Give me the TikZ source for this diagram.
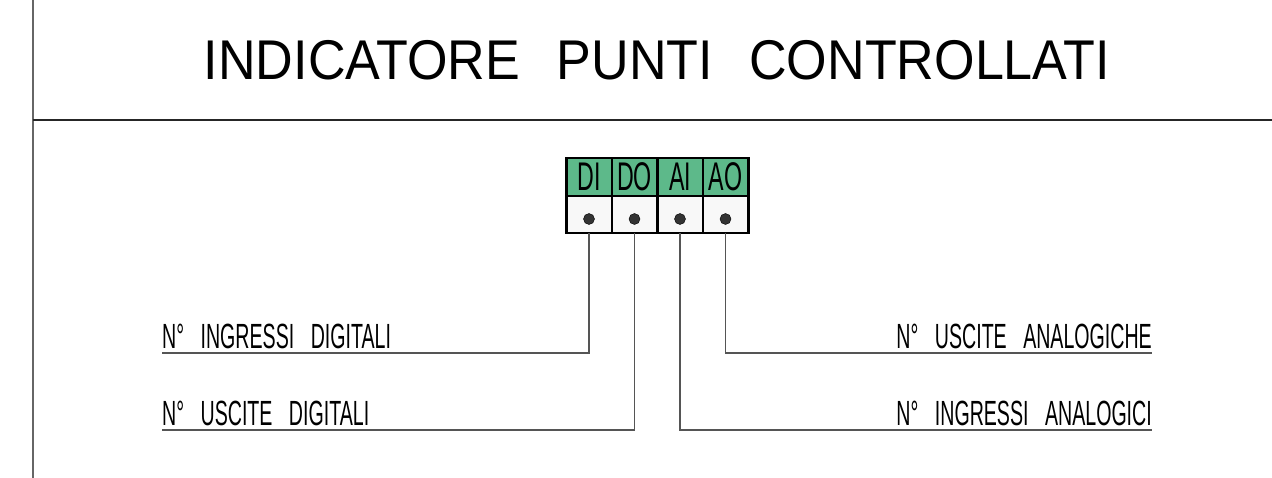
\documentclass[tikz,border=0pt]{standalone}
\usepackage{fontspec}
\usepackage{graphicx}
\setmainfont{Liberation Sans}
\usetikzlibrary{positioning}
\newcommand{\cadtxt}[2][0.56]{\scalebox{#1}[1]{#2}}
\newcommand{\wgap}{\hspace{0.84em}}
\newcommand{\tgap}{\hspace{0.7em}}
\definecolor{dpgreen}{RGB}{93,185,138}
\definecolor{pinwhite}{RGB}{248,248,248}
\definecolor{leadgray}{RGB}{85,85,85}
\tikzset{
  hdcell/.style={draw=black,line width=2.5pt,fill=dpgreen,minimum width=45.5pt,minimum height=38pt,inner sep=0pt,outer sep=0pt,font=\fontsize{40}{40}\selectfont},
  pincell/.style={draw=black,line width=2.5pt,fill=pinwhite,minimum width=45.5pt,minimum height=37pt,inner sep=0pt,outer sep=0pt},
  pindot/.style={fill=black!80,draw=black,circle,inner sep=0pt,minimum size=11pt},
  lead/.style={leadgray,line width=1.3pt},
  lbl/.style={inner sep=0pt,font=\fontsize{35}{35}\selectfont}
}

\begin{document}
\begin{tikzpicture}[x=1pt,y=-1pt]
  \useasboundingbox (0,0) rectangle (1272,478);
  % frame
  \draw[black!60,line width=2pt] (33,0) -- (33,478);
  \draw[black!85,line width=2pt] (33,120) -- (1272,120);
  \node[inner sep=0pt,font=\fontsize{56}{56}\selectfont] (title) at (657,60)
    {\cadtxt[0.93]{INDICATORE\tgap PUNTI\tgap CONTROLLATI}};

  % header row
  \node[hdcell] (hdi) at (589,177) {\cadtxt[0.58]{DI}};
  \node[hdcell,right=0pt of hdi] (hdo) {\cadtxt[0.58]{DO}};
  \node[hdcell,right=0pt of hdo] (hai) {\cadtxt[0.58]{AI}};
  \node[hdcell,right=0pt of hai] (hao) {\cadtxt[0.58]{AO}};
  % pin row
  \foreach \p in {di,do,ai,ao}{
    \node[pincell,below=0pt of h\p] (p\p) {};
    \node[pindot] (d\p) at ([yshift=-4.5pt]p\p.center) {};
  }

  % labels
  \coordinate (udi) at (162,353);
  \coordinate (udo) at (162,430);
  \coordinate (uao) at (1152,353);
  \coordinate (uai) at (1152,430);
  \node[lbl,anchor=south west] (ldi) at ([yshift=4pt]udi) {\cadtxt{N°\wgap INGRESSI\wgap DIGITALI}};
  \node[lbl,anchor=south west] (ldo) at ([yshift=4pt]udo) {\cadtxt{N°\wgap USCITE\wgap DIGITALI}};
  \node[lbl,anchor=south east] (lao) at ([yshift=4pt]uao) {\cadtxt{N°\wgap USCITE\wgap ANALOGICHE}};
  \node[lbl,anchor=south east] (lai) at ([yshift=4pt]uai) {\cadtxt{N°\wgap INGRESSI\wgap ANALOGICI}};

  % leaders
  \draw[lead] (pdi.south) |- (udi);
  \draw[lead] (pdo.south) |- (udo);
  \draw[lead] (pai.south) |- (uai);
  \draw[lead] (pao.south) |- (uao);
\end{tikzpicture}
\end{document}
